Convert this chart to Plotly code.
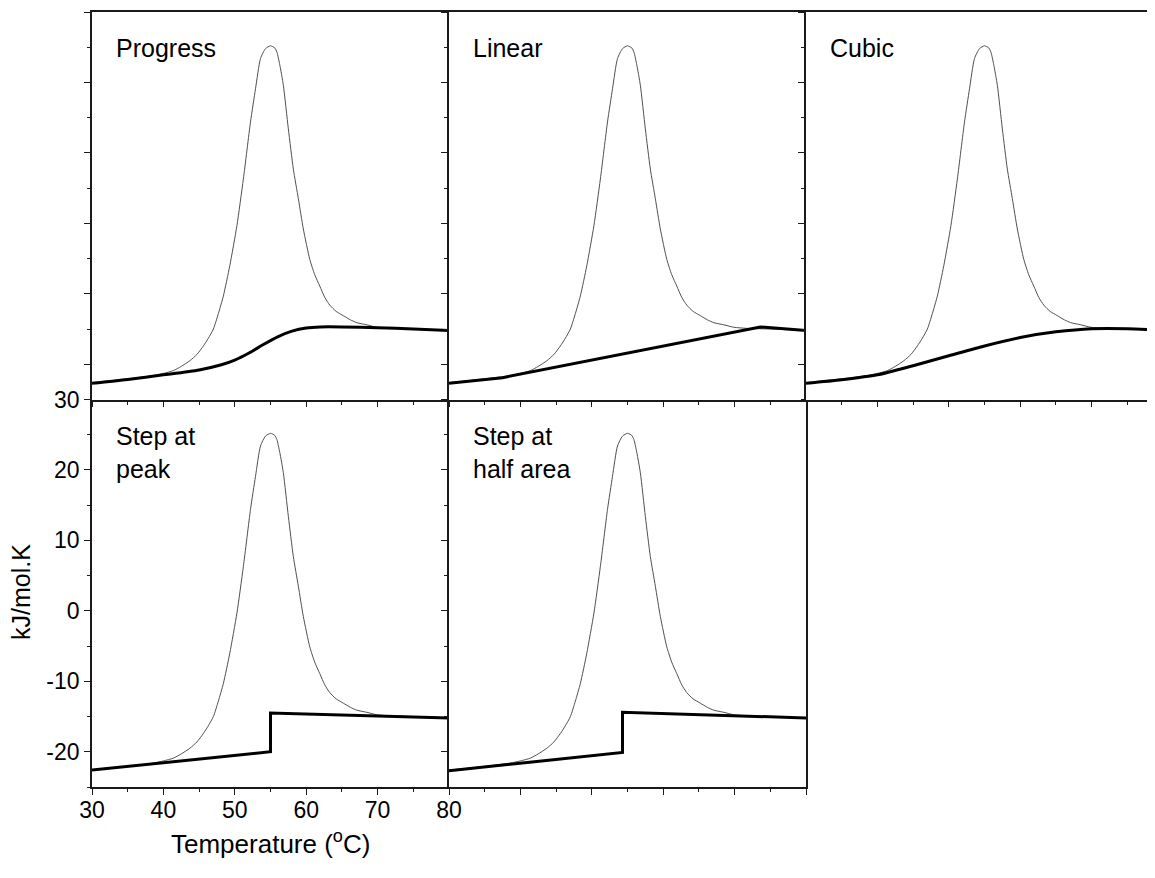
import plotly.graph_objects as go

# ---------------- data ----------------
temp_curve = [30, 33, 36, 38.6, 40, 41.4, 42.5, 43.7, 44.7, 45.6, 46.3, 47.0, 47.7, 48.4,
              49.3, 50.3, 51.2, 52.2, 52.9, 53.6, 54.3, 55.0, 55.6, 55.9, 56.3, 56.8,
              57.5, 58.2, 58.9, 59.6, 60.5, 61.2, 61.9, 62.6, 63.3, 64.2, 65.2, 66.2,
              67.1, 68.5, 69.9, 71.7, 75, 80]
cp_curve = [-22.6, -22.3, -21.95, -21.6, -21.3, -20.9, -20.3, -19.5, -18.6, -17.4, -16.3,
            -15.0, -12.8, -10.3, -6.0, -0.3, 6.3, 14.4, 19.1, 23.4, 24.8, 25.2, 24.9, 24.3,
            22.5, 19.6, 13.4, 7.7, 3.5, -0.8, -5.1, -7.3, -8.9, -10.5, -11.6, -12.5, -13.1,
            -13.7, -14.1, -14.4, -14.75, -14.9, -15.0, -15.2]

progress_T = [30, 35, 40, 45, 48, 50, 52, 54, 56, 58, 60, 62, 65, 70, 75, 80]
progress_V = [-22.7, -22.15, -21.5, -20.8, -20.1, -19.4, -18.4, -17.2, -16.1, -15.3,
              -14.85, -14.7, -14.7, -14.8, -15.0, -15.2]

linear_T = [30, 37.5, 73.6, 80]
linear_V = [-22.7, -21.9, -14.7, -15.2]

cubic_T = [30, 35, 40, 45, 50, 55, 60, 65, 70, 75, 80]
cubic_V = [-22.7, -22.2, -21.5, -20.2, -18.8, -17.4, -16.2, -15.4, -14.95, -14.95, -15.2]

steppeak_T = [30, 55, 55, 80]
steppeak_V = [-22.6, -20.0, -14.5, -15.2]

stephalf_T = [30, 54.3, 54.3, 80]
stephalf_V = [-22.7, -20.1, -14.4, -15.2]

panel_names = ["Progress", "Linear", "Cubic", "Step at<br>peak", "Step at<br>half area"]
x_ticks = [30, 40, 50, 60, 70, 80]
x_ticktext = ["30", "40", "50", "60", "70", "80"]
y_ticks = [-20, -10, 0, 10, 20, 30]
y_ticktext = ["-20", "-10", "0", "10", "20", "30"]

# ---------------- layout geometry ----------------
W, H = 1147, 870
ML, MR, MT, MB = 84, 0, 4, 91
PW = W - ML - MR      # 1063
PH = H - MT - MB      # 775
panel_px = 357
x_doms = [[0, panel_px / PW], [panel_px / PW, 2 * panel_px / PW], [2 * panel_px / PW, 1.0]]
y_doms = [[0.5, 1.0], [0.0, 0.5]]
px_per_unit = panel_px / 50.0
cubic_xmax = 30 + (PW - 2 * panel_px) / px_per_unit

FONT = "Arial, Liberation Sans, sans-serif"
AX = "#1a1a1a"

baselines = [(progress_T, progress_V, "spline"), (linear_T, linear_V, "linear"),
             (cubic_T, cubic_V, "spline"), (steppeak_T, steppeak_V, "linear"),
             (stephalf_T, stephalf_V, "linear")]
positions = [(0, 0), (0, 1), (0, 2), (1, 0), (1, 1)]

fig = go.Figure()
layout_axes = {}
annotations = []
for i, ((row, col), (bt, bv, shape)) in enumerate(zip(positions, baselines)):
    n = i + 1
    xa = "x" if n == 1 else f"x{n}"
    ya = "y" if n == 1 else f"y{n}"
    fig.add_trace(go.Scatter(x=temp_curve, y=cp_curve, xaxis=xa, yaxis=ya, mode="lines",
                             line=dict(color="#505050", width=1, shape="spline", smoothing=0.6),
                             showlegend=False, hoverinfo="skip"))
    fig.add_trace(go.Scatter(x=bt, y=bv, xaxis=xa, yaxis=ya, mode="lines",
                             line=dict(color="black", width=3, shape=shape, smoothing=0.7),
                             showlegend=False, hoverinfo="skip"))
    labelled = (n == 4)
    xmax = cubic_xmax if n == 3 else 80
    xkey = "xaxis" if n == 1 else f"xaxis{n}"
    ykey = "yaxis" if n == 1 else f"yaxis{n}"
    layout_axes[xkey] = dict(
        domain=x_doms[col], anchor=ya, range=[30, xmax], showgrid=False, zeroline=False,
        showline=True, linecolor=AX, linewidth=1.6, mirror=(row == 0),
        ticks="outside", ticklen=6, tickwidth=1.3, tickcolor=AX,
        tickvals=x_ticks, ticktext=x_ticktext, showticklabels=labelled,
        ticklabelstandoff=-4,
        tickfont=dict(family=FONT, size=23, color="black"),
        minor=dict(ticks="outside", ticklen=3.5, tickwidth=1.3, tickcolor=AX, dtick=5, tick0=0),
    )
    layout_axes[ykey] = dict(
        domain=y_doms[row], anchor=xa, range=[-25, 30], showgrid=False, zeroline=False,
        showline=True, linecolor=AX, linewidth=1.6, mirror=(n == 5),
        ticks="outside", ticklen=6, tickwidth=1.3, tickcolor=AX,
        tickvals=y_ticks, ticktext=y_ticktext, showticklabels=labelled,
        tickfont=dict(family=FONT, size=23, color="black"),
        minor=dict(ticks="outside", ticklen=3.5, tickwidth=1.3, tickcolor=AX, dtick=5, tick0=0),
    )
    # panel label
    left_px = col * panel_px + 22
    top_px = row * 388 + 20
    annotations.append(dict(
        text=panel_names[i], xref="paper", yref="paper",
        x=left_px / PW, y=1 - top_px / PH, xanchor="left", yanchor="top",
        showarrow=False, align="left",
        font=dict(family=FONT, size=25, color="black")))

fig_bottom = H - MB
annotations.append(dict(
    text="Temperature (<sup>o</sup>C)", xref="paper", yref="paper",
    x=(262 - ML) / PW, y=(fig_bottom - 834) / PH, xanchor="center", yanchor="middle",
    showarrow=False, font=dict(family=FONT, size=26, color="black")))
annotations.append(dict(
    text="kJ/mol.K", xref="paper", yref="paper", textangle=-90,
    x=(13 - ML) / PW, y=(fig_bottom - 584) / PH, xanchor="center", yanchor="middle",
    showarrow=False, font=dict(family=FONT, size=25, color="black")))

fig.update_layout(
    width=W, height=H, margin=dict(l=ML, r=MR, t=MT, b=MB, autoexpand=False),
    paper_bgcolor="white", plot_bgcolor="white",
    annotations=annotations, showlegend=False,
    font=dict(family=FONT, color="black"),
    **layout_axes,
)

fig.write_html("out.html")
